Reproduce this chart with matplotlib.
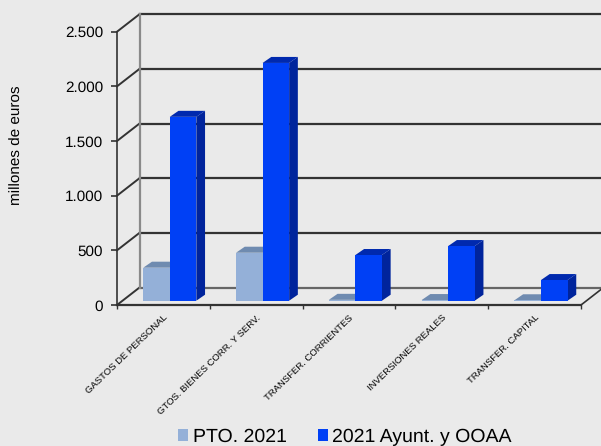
import matplotlib
matplotlib.use('Agg')
import matplotlib.pyplot as plt
from matplotlib.ticker import FuncFormatter

categories = ['GASTOS DE PERSONAL', 'GTOS. BIENES CORR. Y SERV.',
              'TRANSFER. CORRIENTES', 'INVERSIONES REALES', 'TRANSFER. CAPITAL']
pto_2021 = [302, 439, 8, 6, 4]
ayunt_ooaa = [1682, 2175, 418, 500, 189]
y_ticks = [0, 500, 1000, 1500, 2000, 2500]

BG = '#EAEAEA'
DARK = '#333333'

plt.rcParams['font.family'] = ['Liberation Sans', 'DejaVu Sans']
plt.rcParams['text.hinting'] = 'none'

W, H = 601, 446
fig = plt.figure(figsize=(W / 100, H / 100), dpi=100, facecolor=BG)
# plot box in pixels, front face of the fake 3d box
left, right, bottom, top = 117, 581, 305, 31.7
ax = fig.add_axes([left / W, 1 - bottom / H, (right - left) / W, (bottom - top) / H])
ax.set_facecolor('none')
ax.set_xlim(0, 5)
ax.set_ylim(0, 2500)

# depth of the box and of the bars, in data units
depth_x = 22.5 / 92.8
depth_y = 17.5 / 54.7 * 500
bar_dx = 8.7 / 92.8
bar_dy = 6 / 54.7 * 500
base = 4.3 / 54.7 * 500
bar_w = 0.286
start = 0.283

# walls and grid
for v in y_ticks:
    ax.plot([0, depth_x], [v, v + depth_y], color=DARK, lw=1.4, clip_on=False, zorder=1)
    ax.plot([depth_x, 5 + depth_x], [v + depth_y, v + depth_y],
            color='#666666' if v == 0 else DARK, lw=1.6, clip_on=False, zorder=1)
ax.plot([depth_x, depth_x], [depth_y, 2500 + depth_y], color='#8A8A8A', lw=1.6,
        clip_on=False, zorder=1)
ax.plot([5, 5 + depth_x], [0, depth_y], color=DARK, lw=1.2, clip_on=False, zorder=1)


def draw_bars(values, offset, face, side, roof, label, z):
    xs = [i + offset for i in range(len(values))]
    bars = ax.bar(xs, values, width=bar_w, bottom=base, align='edge', color=face,
                  lw=0, label=label, zorder=z + 1, clip_on=False)
    for x, v in zip(xs, values):
        t = base + v
        ax.fill([x + bar_w, x + bar_w + bar_dx, x + bar_w + bar_dx, x + bar_w],
                [base, base + bar_dy, t + bar_dy, t], color=side, lw=0, zorder=z,
                clip_on=False)
        ax.fill([x, x + bar_dx, x + bar_w + bar_dx, x + bar_w],
                [t, t + bar_dy, t + bar_dy, t], color=roof, lw=0, zorder=z,
                clip_on=False)
    return bars


draw_bars(pto_2021, start, '#94B0D8', '#6F8BB0', '#6F8BB0', 'PTO. 2021', 2)
draw_bars(ayunt_ooaa, start + bar_w, '#0040F5', '#00249C', '#0029AE', '2021 Ayunt. y OOAA', 4)

ax.set_yticks(y_ticks)
ax.yaxis.set_major_formatter(FuncFormatter(lambda v, p: f'{int(v):,}'.replace(',', '.')))
ax.tick_params(axis='y', labelsize=11, length=4, width=1.2, color=DARK, pad=6, labelcolor='black')
ax.set_xticks(range(6))
ax.set_xticklabels([])
ax.set_xticks([i + 0.5 for i in range(5)], minor=True)
ax.set_xticklabels(categories, minor=True, rotation=44, ha='right', va='top',
                   rotation_mode='anchor', fontsize=6.8)
ax.tick_params(axis='x', which='major', length=3, width=1, color=DARK, direction='out')
ax.tick_params(axis='x', which='minor', length=0, pad=6)
for name in ['top', 'right']:
    ax.spines[name].set_visible(False)
ax.spines['left'].set_color(DARK)
ax.spines['left'].set_linewidth(1.2)
ax.spines['bottom'].set_color(DARK)
ax.spines['bottom'].set_linewidth(1.6)

fig.text(17 / W, 1 - 145 / H, 'millones de euros', rotation=90, ha='center', va='center',
         fontsize=11)

fig.legend(loc='center', bbox_to_anchor=(345 / W, 1 - 437 / H), ncols=2, frameon=False,
           fontsize=14, handlelength=0.52, handleheight=0.52, handletextpad=0.22,
           columnspacing=1.6, borderpad=0)

fig.savefig('out.png', dpi=100, facecolor=BG)
